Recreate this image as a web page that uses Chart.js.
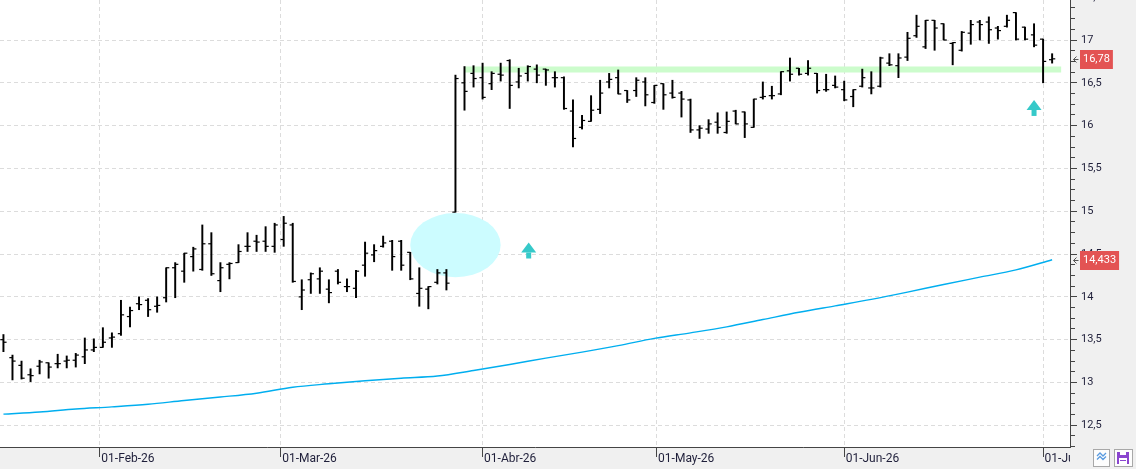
<!DOCTYPE html>
<html>
<head>
<meta charset="utf-8">
<script src="https://cdn.jsdelivr.net/npm/chart.js@4.4.1/dist/chart.umd.min.js"></script>
<style>
  html, body { margin: 0; padding: 0; background: #fff; overflow: hidden; }
  #wrap { width: 1136px; height: 469px; }
</style>
</head>
<body>
<div id="wrap"><canvas id="chart" width="1136" height="469"></canvas></div>
<script>
// Daily OHLC bars, one per trading day (16-Jan-26 .. 02-Jul-26), x = bar index
const opens = [
  13.50, 13.29, 13.20, 13.09, 13.19, 13.23, 13.22, 13.25, 13.26, 13.30,
  13.38, 13.41, 13.52, 13.57, 13.77, 13.92, 13.96, 13.89, 13.99, 14.34,
  14.30, 14.47, 14.32, 14.62, 14.19, 14.38, 14.40, 14.59, 14.65, 14.65,
  14.59, 14.67, 14.84, 14.00, 14.20, 14.21, 14.09, 14.30, 14.12, 14.10,
  14.37, 14.49, 14.59, 14.65, 14.65, 14.52, 14.04, 14.09, 14.17, 14.28,
  14.99, 16.50, 16.61, 16.56, 16.49, 16.60, 16.76, 16.51, 16.61, 16.66,
  16.66, 16.56, 16.56, 16.17, 15.98, 16.05, 16.19, 16.51, 16.56, 16.41,
  16.41, 16.51, 16.27, 16.49, 16.38, 16.38, 16.30, 15.95, 15.96, 16.04,
  15.92, 16.17, 16.16, 15.98, 16.33, 16.35, 16.37, 16.64, 16.67, 16.61,
  16.61, 16.42, 16.47, 16.42, 16.34, 16.46, 16.44, 16.46, 16.73, 16.70,
  16.80, 17.05, 16.92, 17.23, 17.19, 16.96, 16.88, 17.08, 17.21, 17.21,
  17.14, 17.16, 17.32, 17.15, 17.06, 17.01, 16.77
];
const highs = [
  13.56, 13.32, 13.25, 13.16, 13.26, 13.23, 13.33, 13.31, 13.34, 13.52,
  13.51, 13.64, 13.58, 13.96, 13.88, 14.00, 13.98, 14.00, 14.34, 14.40,
  14.51, 14.58, 14.84, 14.75, 14.40, 14.40, 14.61, 14.75, 14.72, 14.82,
  14.86, 14.94, 14.86, 14.20, 14.28, 14.34, 14.20, 14.32, 14.21, 14.31,
  14.64, 14.61, 14.71, 14.66, 14.66, 14.52, 14.34, 14.12, 14.32, 14.32,
  16.59, 16.69, 16.70, 16.73, 16.63, 16.73, 16.77, 16.67, 16.70, 16.71,
  16.66, 16.63, 16.57, 16.30, 16.12, 16.35, 16.53, 16.61, 16.65, 16.41,
  16.56, 16.56, 16.47, 16.49, 16.53, 16.40, 16.31, 16.00, 16.07, 16.15,
  16.16, 16.18, 16.16, 16.31, 16.51, 16.46, 16.63, 16.79, 16.67, 16.76,
  16.61, 16.60, 16.58, 16.52, 16.42, 16.66, 16.63, 16.80, 16.84, 16.84,
  17.09, 17.29, 17.23, 17.23, 17.19, 16.97, 17.10, 17.23, 17.23, 17.27,
  17.16, 17.29, 17.32, 17.15, 17.19, 17.01, 16.84
];
const lows = [
  13.36, 13.03, 13.04, 13.01, 13.10, 13.05, 13.17, 13.17, 13.18, 13.22,
  13.36, 13.41, 13.41, 13.55, 13.65, 13.85, 13.77, 13.82, 13.94, 13.99,
  14.17, 14.30, 14.31, 14.25, 14.06, 14.21, 14.40, 14.53, 14.53, 14.53,
  14.52, 14.59, 14.17, 13.85, 14.04, 14.04, 13.93, 14.15, 14.06, 13.99,
  14.24, 14.41, 14.58, 14.31, 14.31, 14.20, 13.89, 13.86, 14.15, 14.08,
  14.99, 16.18, 16.45, 16.31, 16.42, 16.52, 16.20, 16.44, 16.52, 16.50,
  16.47, 16.45, 16.19, 15.75, 15.96, 16.05, 16.14, 16.44, 16.37, 16.27,
  16.34, 16.23, 16.26, 16.19, 16.32, 16.10, 15.92, 15.85, 15.91, 15.91,
  15.91, 16.02, 15.86, 15.98, 16.31, 16.31, 16.36, 16.52, 16.59, 16.59,
  16.38, 16.40, 16.44, 16.29, 16.22, 16.45, 16.37, 16.45, 16.70, 16.56,
  16.76, 17.03, 16.90, 16.88, 17.00, 16.71, 16.87, 16.95, 17.00, 16.96,
  17.01, 17.15, 17.00, 17.00, 16.92, 16.50, 16.73
];
const closes = [
  13.47, 13.25, 13.05, 13.08, 13.24, 13.18, 13.22, 13.26, 13.32, 13.38,
  13.41, 13.47, 13.53, 13.79, 13.84, 13.91, 13.85, 13.90, 14.34, 14.38,
  14.51, 14.56, 14.62, 14.27, 14.34, 14.39, 14.53, 14.59, 14.64, 14.59,
  14.84, 14.86, 14.18, 14.08, 14.27, 14.30, 14.05, 14.17, 14.12, 14.30,
  14.51, 14.54, 14.63, 14.47, 14.37, 14.21, 14.10, 14.12, 14.28, 14.16,
  16.55, 16.40, 16.55, 16.33, 16.61, 16.59, 16.47, 16.58, 16.69, 16.59,
  16.65, 16.56, 16.20, 15.85, 16.06, 16.18, 16.38, 16.54, 16.37, 16.30,
  16.53, 16.36, 16.47, 16.36, 16.33, 16.31, 15.95, 15.97, 16.02, 15.98,
  16.05, 16.02, 16.02, 16.31, 16.34, 16.35, 16.63, 16.60, 16.60, 16.67,
  16.41, 16.42, 16.45, 16.30, 16.42, 16.56, 16.44, 16.79, 16.71, 16.79,
  17.02, 17.16, 17.23, 17.14, 17.00, 16.97, 17.09, 17.18, 17.18, 17.12,
  17.11, 17.23, 17.01, 17.01, 16.94, 16.75, 16.78
];

// Long moving average, every 4th bar
const maIdx = [0, 4, 8, 12, 16, 20, 24, 28, 32, 36, 40, 44, 48, 52, 56,
               60, 64, 68, 72, 76, 80, 84, 88, 92, 96, 100, 104, 108, 112, 116];
const maVal = [12.63, 12.655, 12.69, 12.715, 12.745, 12.79, 12.83, 12.875, 12.945, 12.985,
               13.02, 13.05, 13.075, 13.14, 13.21, 13.285, 13.355, 13.43, 13.515, 13.58,
               13.65, 13.735, 13.82, 13.895, 13.97, 14.055, 14.145, 14.23, 14.315, 14.433];

// Month gridlines (in bar-index units; weekends/holidays fall between bars)
const monthPos = [10.667, 30.667, 53, 72.25, 93, 115];
const monthLabels = ['01-Feb-26', '01-Mar-26', '01-Abr-26', '01-May-26', '01-Jun-26', '01-Jul-26'];

// Drawn-on annotations
const resistanceLevel = 16.655;
const resistanceSpan = [51, 117];
const gapZone = { x: 50, y: 14.605, rx: 5, ry: 0.375 };
const arrowTips = [{ x: 58.1, y: 14.635 }, { x: 114, y: 16.30 }];

const Y_MIN = 12.2465, Y_MAX = 17.4672;
const X_MIN = -0.38, X_MAX = 117.977;

const fmt = v => String(v).replace('.', ',');
const isMajor = v => Math.abs(v * 2 - Math.round(v * 2)) < 1e-9;
const noPad = s => { s.paddingTop = 0; s.paddingBottom = 0; s.paddingLeft = 0; s.paddingRight = 0; };

function drawArrow(ctx, px, py) {
  ctx.fillStyle = '#36c9c9';
  ctx.beginPath();
  ctx.moveTo(px, py);
  ctx.lineTo(px + 7.5, py + 10);
  ctx.lineTo(px - 7.5, py + 10);
  ctx.closePath();
  ctx.fill();
  ctx.fillRect(px - 2.5, py + 10, 5, 6);
}

function drawTag(ctx, left, py, text) {
  const y = Math.round(py);
  ctx.font = '11px Roboto';
  const w = ctx.measureText(text).width + 6;
  ctx.fillStyle = '#e35353';
  ctx.fillRect(left + 10, y - 9, w, 19);
  ctx.fillStyle = '#fff';
  ctx.textBaseline = 'middle';
  ctx.textAlign = 'left';
  ctx.fillText(text, left + 13, y + 0.5);
  ctx.strokeStyle = '#555';
  ctx.lineWidth = 1;
  ctx.beginPath();
  ctx.moveTo(left + 8.5, y + 0.5);
  ctx.lineTo(left + 3.5, y + 0.5);
  ctx.moveTo(left + 6.5, y - 2.5);
  ctx.lineTo(left + 3.5, y + 0.5);
  ctx.lineTo(left + 6.5, y + 3.5);
  ctx.stroke();
}

function drawButtons(ctx, w) {
  // chart type toggle
  ctx.fillStyle = '#fdfdfd';
  ctx.strokeStyle = '#a8a8a8';
  ctx.lineWidth = 1;
  ctx.fillRect(w - 43, 449, 16, 17);
  ctx.strokeRect(w - 42.5, 449.5, 16, 17);
  ctx.strokeStyle = '#5a9be0';
  ctx.lineWidth = 1.3;
  [453, 456.5].forEach(y0 => {
    ctx.beginPath();
    ctx.moveTo(w - 39, y0 + 3);
    ctx.lineTo(w - 36, y0);
    ctx.lineTo(w - 33, y0 + 3);
    ctx.lineTo(w - 30, y0);
    ctx.stroke();
  });
  // save icon
  ctx.fillStyle = '#fdfdfd';
  ctx.strokeStyle = '#a8a8a8';
  ctx.lineWidth = 1;
  ctx.fillRect(w - 22, 449, 18, 17);
  ctx.strokeRect(w - 21.5, 449.5, 18, 17);
  ctx.fillStyle = '#8a45cf';
  ctx.fillRect(w - 19, 452, 12, 12);
  ctx.fillStyle = '#fff';
  ctx.fillRect(w - 16, 452, 6, 3);
  ctx.fillRect(w - 17, 458, 8, 6);
  ctx.fillStyle = '#8a45cf';
  ctx.fillRect(w - 16, 460, 6, 1);
}

const decor = {
  id: 'decor',
  beforeDraw(chart) {
    const { ctx, chartArea: a, width, height } = chart;
    ctx.save();
    ctx.fillStyle = '#f0f0f0';
    ctx.fillRect(0, a.bottom, width, height - a.bottom);
    ctx.restore();
  },
  beforeDatasetsDraw(chart) {
    const { ctx, scales: { x, y } } = chart;
    const cx = x.getPixelForValue(gapZone.x);
    const cy = y.getPixelForValue(gapZone.y);
    const rx = Math.abs(x.getPixelForValue(gapZone.x + gapZone.rx) - cx);
    const ry = Math.abs(y.getPixelForValue(gapZone.y + gapZone.ry) - cy);
    ctx.save();
    ctx.fillStyle = '#ccfcff';
    ctx.beginPath();
    ctx.ellipse(cx, cy, rx, ry, 0, 0, Math.PI * 2);
    ctx.fill();
    ctx.restore();
  },
  afterDatasetsDraw(chart) {
    const { ctx, chartArea: a, width, height, scales: { x, y } } = chart;
    ctx.save();
    arrowTips.forEach(p => drawArrow(ctx, x.getPixelForValue(p.x), y.getPixelForValue(p.y)));
    // right axis panel (also hides the clipped last date label)
    ctx.fillStyle = '#f0f0f0';
    ctx.fillRect(a.right, 0, width - a.right, height);
    ctx.restore();
  },
  afterDraw(chart) {
    const { ctx, chartArea: a, width, scales: { y2 } } = chart;
    ctx.save();
    drawTag(ctx, a.right, y2.getPixelForValue(closes[closes.length - 1]), fmt(closes[closes.length - 1]));
    drawTag(ctx, a.right, y2.getPixelForValue(maVal[maVal.length - 1]), fmt(maVal[maVal.length - 1]));
    drawButtons(ctx, width);
    ctx.restore();
  }
};

const labelColor = '#1f1f3a';

new Chart(document.getElementById('chart'), {
  type: 'scatter',
  data: {
    datasets: [
      {
        // open ticks
        type: 'scatter',
        data: opens.map((v, i) => ({ x: i - 0.17, y: v })),
        pointStyle: 'line',
        pointRadius: 1.6,
        pointHoverRadius: 1.6,
        borderColor: '#000',
        pointBorderColor: '#000',
        pointBorderWidth: 1.2,
        borderWidth: 1.2,
        order: 0
      },
      {
        // close ticks
        type: 'scatter',
        data: closes.map((v, i) => ({ x: i + 0.17, y: v })),
        pointStyle: 'line',
        pointRadius: 1.6,
        pointHoverRadius: 1.6,
        borderColor: '#000',
        pointBorderColor: '#000',
        pointBorderWidth: 1.2,
        borderWidth: 1.2,
        order: 1
      },
      {
        // high-low range
        type: 'bar',
        data: lows.map((v, i) => ({ x: i, y: [v, highs[i]] })),
        backgroundColor: '#000',
        borderWidth: 0,
        barThickness: 1.3,
        order: 2
      },
      {
        type: 'line',
        data: maIdx.map((v, i) => ({ x: v, y: maVal[i] })),
        borderColor: '#00aeef',
        borderWidth: 1.4,
        pointRadius: 0,
        cubicInterpolationMode: 'monotone',
        order: 3
      },
      {
        type: 'line',
        data: resistanceSpan.map(v => ({ x: v, y: resistanceLevel })),
        borderColor: '#ccfccc',
        borderWidth: 6,
        borderCapStyle: 'butt',
        pointRadius: 0,
        order: 4
      }
    ]
  },
  options: {
    responsive: false,
    devicePixelRatio: 1,
    animation: false,
    events: [],
    layout: { padding: 0, autoPadding: false },
    plugins: { legend: { display: false }, tooltip: { enabled: false } },
    scales: {
      x: {
        type: 'linear',
        position: 'bottom',
        min: X_MIN,
        max: X_MAX,
        offset: false,
        afterBuildTicks: s => { s.ticks = monthPos.map(v => ({ value: v })); },
        afterFit: s => { s.height = 22; noPad(s); },
        grid: { color: '#dcdcdc', offset: false, tickColor: '#444', tickLength: 10, tickBorderDash: [] },
        border: { display: true, color: '#444', width: 1, dash: [4, 3] },
        ticks: {
          autoSkip: false,
          maxRotation: 0,
          align: 'start',
          labelOffset: 1.5,
          padding: -5,
          color: labelColor,
          font: { family: 'Roboto', size: 12 },
          callback: (v, i) => monthLabels[i]
        }
      },
      y: {
        type: 'linear',
        position: 'right',
        min: Y_MIN,
        max: Y_MAX,
        afterBuildTicks: s => {
          const t = [];
          for (let k = 25; k <= 34; k++) t.push({ value: k / 2 });
          s.ticks = t;
        },
        afterFit: s => { s.width = 0; noPad(s); },
        grid: { color: '#dcdcdc', drawTicks: false },
        border: { display: false, dash: [4, 3] },
        ticks: { display: false }
      },
      y2: {
        type: 'linear',
        position: 'right',
        min: Y_MIN,
        max: Y_MAX,
        afterBuildTicks: s => {
          const t = [];
          for (let k = 98; k <= 140; k++) t.push({ value: k / 8 });
          s.ticks = t;
        },
        afterFit: s => { s.width = 66; noPad(s); },
        grid: {
          drawOnChartArea: false,
          tickLength: 7,
          tickColor: '#444',
          tickBorderDash: c => (isMajor(c.tick.value) ? [] : [4, 20]),
          z: 1
        },
        border: { display: true, color: '#444', width: 1, z: 1 },
        ticks: {
          z: 1,
          autoSkip: false,
          padding: 4,
          crossAlign: 'near',
          color: labelColor,
          font: { family: 'Roboto', size: 11 },
          callback: v => (isMajor(v) ? fmt(v) : '')
        }
      }
    }
  },
  plugins: [decor]
});
</script>
</body>
</html>
